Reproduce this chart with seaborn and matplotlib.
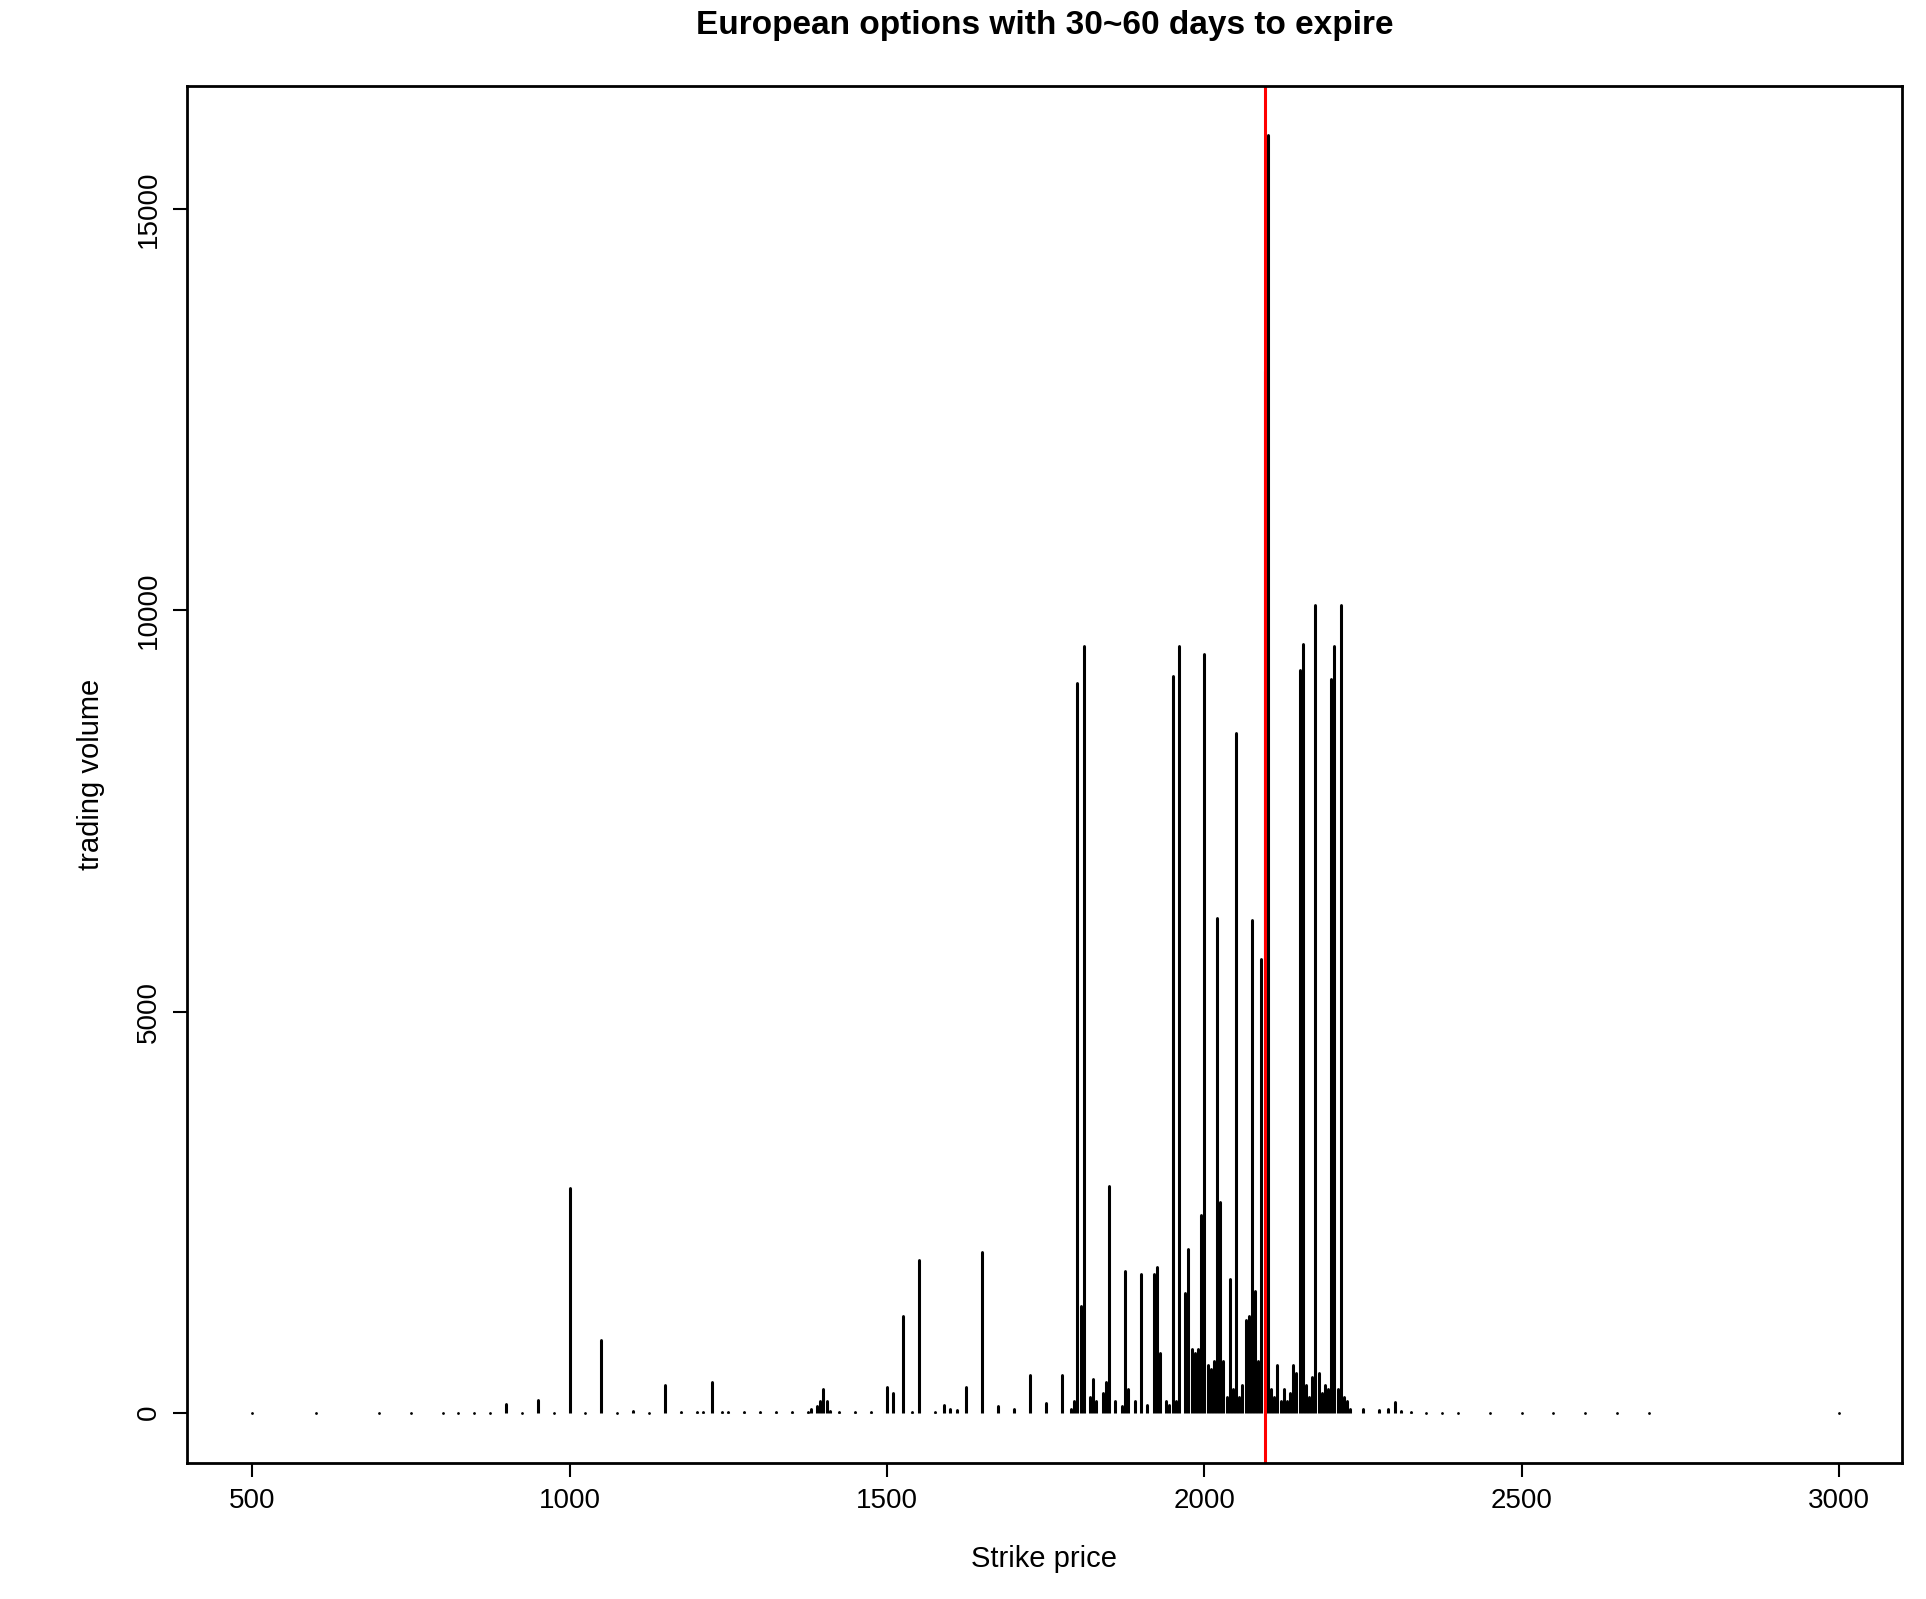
import matplotlib
matplotlib.use("Agg")
import matplotlib.pyplot as plt
import seaborn as sns
import pandas as pd

# strike prices and trading volume
strikes = [500, 600, 700, 750, 800, 825, 850, 875, 900, 925, 950, 975, 1000, 1025, 1050, 1075,
           1100, 1125, 1150, 1175, 1200, 1210, 1225, 1240, 1250, 1275, 1300, 1325, 1350, 1375,
           1380, 1390, 1395, 1400, 1405, 1410, 1425, 1450, 1475, 1500, 1510, 1525, 1540, 1550,
           1575, 1590, 1600, 1610, 1625, 1650, 1675, 1700, 1725, 1750, 1775, 1790, 1795, 1800,
           1805, 1810, 1820, 1825, 1830, 1840, 1845, 1850, 1860, 1870, 1875, 1880, 1890, 1900,
           1910, 1920, 1925, 1930, 1940, 1945, 1950, 1955, 1960, 1970, 1975, 1980, 1985, 1990,
           1995, 2000, 2005, 2010, 2015, 2020, 2025, 2030, 2035, 2040, 2045, 2050, 2055, 2060,
           2065, 2070, 2075, 2080, 2085, 2090, 2095, 2100, 2105, 2110, 2115, 2120, 2125, 2130,
           2135, 2140, 2145, 2150, 2155, 2160, 2165, 2170, 2175, 2180, 2185, 2190, 2195, 2200,
           2205, 2210, 2215, 2220, 2225, 2230, 2250, 2275, 2290, 2300, 2310, 2325, 2350, 2375,
           2400, 2450, 2500, 2550, 2600, 2650, 2700, 3000]
volume = [0, 0, 0, 0, 0, 0, 0, 0, 110, 0, 160, 0, 2800, 0, 900, 0,
          20, 0, 350, 10, 10, 5, 380, 5, 5, 5, 5, 5, 5, 10,
          50, 80, 150, 290, 150, 20, 5, 5, 5, 320, 250, 1210, 5, 1900,
          10, 100, 40, 30, 320, 2000, 80, 40, 475, 120, 475, 50, 150, 9100,
          1330, 9550, 200, 420, 150, 250, 380, 2820, 150, 80, 1760, 300, 150, 1730,
          100, 1730, 1820, 750, 150, 100, 9180, 150, 9550, 1490, 2040, 800, 750, 800,
          2470, 9450, 600, 550, 650, 6170, 2620, 650, 200, 1670, 300, 8470, 200, 350,
          1150, 1200, 6140, 1520, 650, 5650, 12980, 15920, 300, 200, 600, 150, 300, 150,
          250, 600, 500, 9250, 9580, 350, 200, 450, 10070, 500, 250, 350, 300, 9150,
          9550, 300, 10070, 200, 150, 50, 40, 30, 40, 130, 20, 10, 0, 0,
          0, 0, 0, 0, 0, 0, 0, 0]
spot_price = 2096

df = pd.DataFrame({"strike": strikes, "volume": volume})

sns.set_style("white")
plt.rcParams["font.family"] = ["Liberation Sans", "DejaVu Sans"]
plt.rcParams["text.color"] = "black"
plt.rcParams["axes.labelcolor"] = "black"
plt.rcParams["xtick.color"] = "black"
plt.rcParams["ytick.color"] = "black"

fig = plt.figure(figsize=(19.26, 15.99), dpi=100)
ax = fig.add_axes([0.097, 0.085, 0.8905, 0.861])

ax.vlines(df["strike"], 0, df["volume"], color="black", linewidth=2.2)
sns.scatterplot(data=df, x="strike", y="volume", ax=ax, color="black", s=4, linewidth=0)
ax.axvline(spot_price, color="red", linewidth=2.2)

ax.set_xlim(397, 3099)
ax.set_ylim(-628, 16530)
ax.set_xticks([500, 1000, 1500, 2000, 2500, 3000])
ax.set_yticks([0, 5000, 10000, 15000])
ax.set_yticklabels(["0", "5000", "10000", "15000"], rotation=90, va="center")
ax.tick_params(axis="both", direction="out", length=10, width=1.5, labelsize=20,
               bottom=True, left=True, pad=8)
for s in ax.spines.values():
    s.set_linewidth(2)
    s.set_color("black")

ax.set_xlabel("Strike price", fontsize=21, labelpad=22)
ax.set_ylabel("trading volume", fontsize=21, labelpad=22)
ax.set_title("European options with 30~60 days to expire", fontsize=24, fontweight="bold",
             pad=38, color="black")

fig.savefig("out.png", dpi=100, facecolor="white")
